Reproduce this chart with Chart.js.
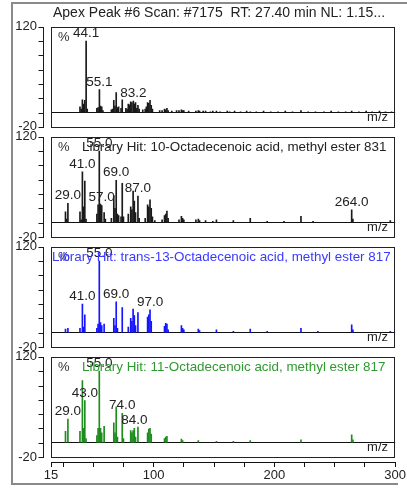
<!DOCTYPE html>
<html>
<head>
<meta charset="utf-8">
<script src="https://cdn.jsdelivr.net/npm/chart.js@4.4.1/dist/chart.umd.min.js"></script>
<style>
  html, body { margin: 0; padding: 0; background: #fff; }
  canvas { display: block; }
</style>
</head>
<body>
<canvas id="spectra" width="407" height="488"></canvas>
<script>
// header line above the first spectrum
const scanTitle = 'Apex Peak #6 Scan: #7175  RT: 27.40 min NL: 1.15...';

// measured scan (relative abundance, %)
const scanMz = [39, 40, 41, 42, 43, 44.1, 45, 53, 54, 55.1, 56, 57, 58, 65, 66, 67, 68, 69, 70, 71, 73, 74,
  77, 78, 79, 80, 81, 82, 83.2, 84, 85, 86, 87, 88, 91, 93, 94, 95, 96, 97, 98, 99, 105, 107, 109, 110,
  111, 112, 115, 119, 121, 123, 124, 125, 129, 135, 137, 138, 141, 143, 147, 149, 152, 155, 161, 163,
  167, 172, 177, 180, 185, 191, 197, 203, 209, 215, 222, 228, 234, 241, 247, 253, 259, 264, 270, 276,
  281, 287, 292, 297];
const scanInt = [8, 5, 18, 12, 17, 100, 5, 6, 7, 32, 9, 8, 3, 4, 5, 17, 9, 28, 7, 8, 6, 18,
  6, 5, 12, 11, 15, 14, 16, 12, 14, 6, 10, 5, 4, 5, 8, 14, 13, 17, 10, 5, 3, 3, 5, 4,
  6, 3, 2, 3, 3, 4, 3, 3, 2, 2, 3, 2, 2, 2, 1, 2, 2, 1, 2, 1,
  2, 1, 2, 1, 1, 2, 1, 1, 2, 1, 3, 1, 1, 1, 2, 1, 1, 2, 1, 2,
  1, 2, 1, 1];
const scanLabels = [44.1, 55.1, 83.2];

// library hit: 10-Octadecenoic acid, methyl ester
const hit10Mz = [27, 28, 29, 39, 40, 41, 42, 43, 44, 53, 54, 55, 56, 57, 59, 60, 65, 67, 68, 69, 70, 71,
  73, 74, 75, 79, 81, 82, 83, 84, 85, 87, 88, 93, 95, 96, 97, 98, 99, 101, 107, 109, 110, 111, 112,
  121, 123, 124, 125, 135, 137, 138, 143, 149, 152, 166, 180, 194, 208, 222, 232, 264, 265, 296];
const hit10Int = [15, 5, 27, 15, 4, 71, 22, 58, 5, 12, 25, 100, 26, 24, 14, 5, 6, 38, 20, 59, 12, 10,
  8, 55, 8, 12, 22, 18, 44, 30, 14, 37, 6, 6, 25, 22, 32, 20, 8, 3, 4, 10, 12, 16, 6,
  4, 9, 6, 4, 4, 5, 3, 3, 2, 4, 3, 6, 2, 2, 9, 2, 18, 5, 3];
const hit10Labels = [29, 41, 55, 57, 69, 87, 264];

// library hit: trans-13-Octadecenoic acid, methyl ester
const hit13Mz = [27, 29, 39, 41, 42, 43, 53, 54, 55, 56, 57, 59, 67, 68, 69, 70, 74, 79, 81, 82, 83,
  84, 85, 87, 95, 96, 97, 98, 109, 110, 111, 112, 123, 124, 125, 137, 138, 152, 166, 180, 194, 222,
  236, 264, 265, 296];
const hit13Int = [5, 6, 6, 40, 8, 25, 6, 12, 100, 14, 10, 12, 20, 10, 43, 6, 35, 8, 20, 16, 33,
  24, 10, 28, 22, 25, 32, 16, 9, 13, 12, 4, 10, 6, 4, 5, 3, 4, 2, 5, 2, 6,
  2, 11, 4, 2];
const hit13Labels = [41, 55, 69, 97];

// library hit: 11-Octadecenoic acid, methyl ester
const hit11Mz = [27, 29, 39, 41, 42, 43, 44, 53, 54, 55, 56, 57, 59, 67, 68, 69, 70, 74, 75, 81, 82,
  83, 84, 85, 87, 95, 96, 97, 98, 109, 110, 111, 123, 124, 137, 152, 166, 180, 222, 264, 265];
const hit11Int = [16, 33, 16, 87, 20, 59, 6, 10, 20, 100, 20, 14, 23, 28, 14, 50, 8, 41, 6, 17, 14,
  17, 20, 8, 22, 14, 19, 20, 12, 6, 8, 9, 5, 3, 3, 2, 2, 3, 4, 11, 4];
const hit11Labels = [29, 43, 55, 74, 84];

const mzTicks = [15, 25, 50, 75, 100, 125, 150, 175, 200, 225, 250, 275, 300];
const mzTickLabels = [15, 100, 200, 300];
const abTicks = [-20, 0, 20, 40, 60, 80, 100, 120];
const abTickLabels = [120, -20];

const font = "'Liberation Sans', Arial, sans-serif";

const panels = [
  { mz: scanMz, ab: scanInt, marks: scanLabels, bar: '#1a1a1a', text: '', textColor: '#222', textX: 82 },
  { mz: hit10Mz, ab: hit10Int, marks: hit10Labels, bar: '#1a1a1a',
    text: 'Library Hit: 10-Octadecenoic acid, methyl ester 831', textColor: '#222', textX: 82 },
  { mz: hit13Mz, ab: hit13Int, marks: hit13Labels, bar: '#1515ff',
    text: 'Library Hit: trans-13-Octadecenoic acid, methyl ester 817', textColor: '#3a3aff', textX: 52 },
  { mz: hit11Mz, ab: hit11Int, marks: hit11Labels, bar: '#1e8c1e',
    text: 'Library Hit: 11-Octadecenoic acid, methyl ester 817', textColor: '#2f9a2f', textX: 82 }
];

Chart.defaults.font.family = font;
Chart.defaults.font.size = 13;
Chart.defaults.color = '#222';

const datasets = panels.map((p, i) => ({
  data: p.mz.map((m, k) => ({ x: m, y: p.ab[k] })),
  yAxisID: 'y' + i,
  backgroundColor: p.bar,
  barThickness: 1,
  grouped: false
}));

const yScale = () => ({
  type: 'linear',
  stack: 'ms',
  stackWeight: 1,
  min: -26.9,
  max: 126.9,
  afterBuildTicks: s => { s.ticks = abTicks.map(v => ({ value: v })); },
  afterFit: s => { s.width = 51; },
  ticks: {
    autoSkip: false,
    padding: 14,
    callback: v => abTickLabels.includes(v) ? String(v) : ''
  },
  grid: {
    drawTicks: false,
    color: c => (c.tick && c.tick.value === 0) ? '#111' : 'rgba(0,0,0,0)'
  },
  border: { display: false }
});

// left stacks are laid out in reverse order, so list the bottom panel first
const scales = {
  x: {
    type: 'linear',
    offset: false,
    min: 15,
    max: 300,
    afterBuildTicks: s => { s.ticks = mzTicks.map(v => ({ value: v })); },
    afterFit: s => { s.height = 26; },
    ticks: {
      autoSkip: false,
      maxRotation: 0,
      padding: 1,
      callback: v => mzTickLabels.includes(v) ? String(v) : ''
    },
    grid: { offset: false, drawOnChartArea: false, tickLength: 5, color: '#111' },
    border: { color: '#111' }
  }
};
for (let i = panels.length - 1; i >= 0; i--) scales['y' + i] = yScale();

const decorations = {
  id: 'decorations',
  afterDraw(chart) {
    const { ctx, chartArea: area } = chart;
    const x = chart.scales.x;
    const left = Math.round(area.left);
    const right = Math.round(area.right);
    ctx.save();

    // window frame
    ctx.strokeStyle = '#8a8a8a';
    ctx.lineWidth = 2;
    ctx.beginPath();
    ctx.moveTo(398, 484); ctx.lineTo(12, 484); ctx.lineTo(12, 3); ctx.lineTo(407, 3);
    ctx.stroke();

    ctx.fillStyle = '#222';
    ctx.font = '14px ' + font;
    ctx.textAlign = 'left';
    ctx.textBaseline = 'middle';
    ctx.fillText(scanTitle, 53, 13);

    panels.forEach((p, i) => {
      const y = chart.scales['y' + i];
      const top = Math.round(y.getPixelForValue(120));
      const bottom = Math.round(y.getPixelForValue(-20));

      // frame of the spectrum
      ctx.strokeStyle = '#222';
      ctx.lineWidth = 1;
      ctx.strokeRect(left + 0.5, top + 0.5, right - left - 1, bottom - top);

      // y axis with a tick every 20 %
      const ax = left - 7.5;
      ctx.beginPath();
      ctx.moveTo(ax, top);
      ctx.lineTo(ax, bottom + 1);
      abTicks.forEach(v => {
        const py = Math.round(y.getPixelForValue(v)) + 0.5;
        ctx.moveTo(ax - 5, py);
        ctx.lineTo(ax, py);
      });
      ctx.strokeStyle = '#1a1a1a';
      ctx.lineWidth = 1;
      ctx.stroke();

      ctx.font = '13px ' + font;
      ctx.textBaseline = 'middle';
      ctx.textAlign = 'left';
      ctx.fillStyle = '#333';
      ctx.fillText('%', 58, top + 10);

      // peak labels sit on top of their sticks
      ctx.font = '13.5px ' + font;
      ctx.textAlign = 'center';
      ctx.textBaseline = 'alphabetic';
      ctx.fillStyle = '#222';
      p.marks.forEach(m => {
        const k = p.mz.indexOf(m);
        ctx.fillText(m.toFixed(1), x.getPixelForValue(m), y.getPixelForValue(p.ab[k]) - 4);
      });

      if (p.text) {
        ctx.font = '13.4px ' + font;
        ctx.textAlign = 'left';
        ctx.textBaseline = 'middle';
        ctx.fillStyle = p.textColor;
        ctx.fillText(p.text, p.textX, top + 10);
      }

      ctx.font = '13px ' + font;
      ctx.textAlign = 'right';
      ctx.textBaseline = 'middle';
      ctx.fillStyle = '#222';
      ctx.fillText('m/z', right - 7, y.getPixelForValue(0) + 5);
    });
    ctx.restore();
  }
};

new Chart(document.getElementById('spectra'), {
  type: 'bar',
  data: { datasets },
  options: {
    responsive: false,
    animation: false,
    layout: { padding: { top: 17.6, right: 11, left: 0, bottom: 0 } },
    plugins: { legend: { display: false }, tooltip: { enabled: false } },
    scales
  },
  plugins: [decorations]
});
</script>
</body>
</html>
